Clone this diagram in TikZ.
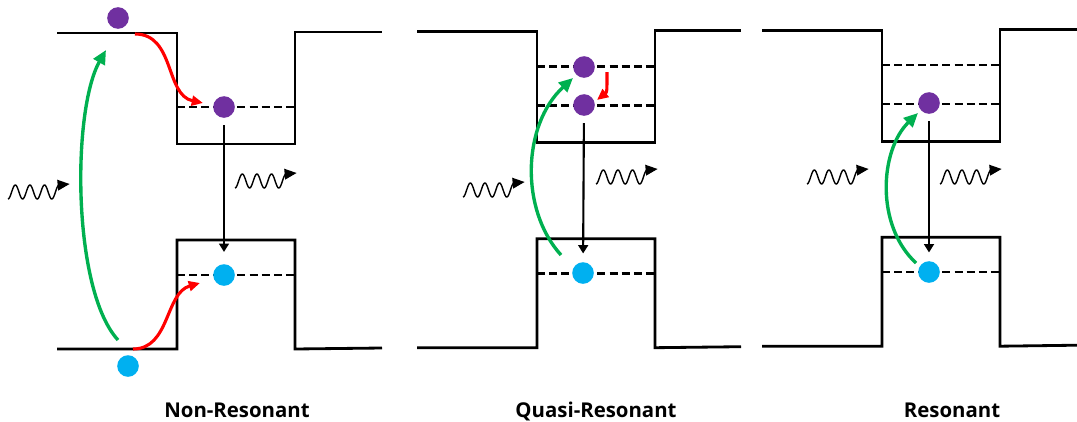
\documentclass[tikz,border=0pt]{standalone}
\usepackage{fontspec}
\setsansfont{Open Sans}
\usetikzlibrary{arrows.meta,calc}
\definecolor{elec}{HTML}{7030A0}
\definecolor{hole}{HTML}{00B0F0}
\definecolor{pump}{HTML}{00B050}
\definecolor{relax}{HTML}{FF0000}
\begin{document}
\begin{tikzpicture}[x=0.025cm,y=-0.025cm,
  bandline/.style={line width=2pt},
  sublevel/.style={line width=1.8pt,dash pattern=on 5.7pt off 2.9pt},
  carrier/.style={circle,inner sep=0pt,minimum size=0.54cm},
  excite/.style={pump,line width=2.4pt,-{Triangle[length=10pt,width=9pt]}},
  cool/.style={relax,line width=2.2pt,-{Triangle[length=8pt,width=7pt]}},
  emit/.style={line width=1.5pt,-{Triangle[length=6pt,width=7pt]},shorten <=5pt,shorten >=6pt},
  photon/.style={line width=1pt,-{Triangle[length=8.5pt,width=7.5pt]}},
  caption/.style={font=\sffamily\bfseries\fontsize{14.5}{17}\selectfont,anchor=base}]
  \useasboundingbox (0,0) rectangle (1077,421);
  % band edges of the three structures
  \foreach \ox/\oy/\xr in {0/0/382, 360/-1.3/381, 705/-2.8/372}{
    \begin{scope}[shift={(\ox,\oy)}]
      \draw[bandline] (57,33) -- (177,33) -- (177,144) -- (295,144) -- (295,32) -- (\xr,32);
      \draw[bandline] (57,349) -- (177,349) -- (177,240) -- (295,240) -- (295,349) -- (\xr,348);
      \draw[sublevel] (177,107) -- (295,107);
      \draw[sublevel] (177,275) -- (295,275);
    \end{scope}}
  % second confined level
  \foreach \ox/\oy in {360/-1.3, 705/-2.8}
    \draw[sublevel] (177+\ox,68+\oy) -- (295+\ox,68+\oy);
  % incoming and emitted light (starts at a trough)
  \foreach \xa/\ya in {8/199, 235/188, 463/197, 596/184, 807/184, 940/184}
    \draw[photon] plot[domain=0:3.5,samples=80,smooth]
      ({\xa+14.6*\x},{\ya-7+7*cos(360*\x)}) -- ++(10.5,-1);
  % carriers
  \node[carrier,fill=elec] (e0) at (118,18) {};
  \node[carrier,fill=elec] (e1) at (224,107) {};
  \node[carrier,fill=hole] (h0) at (128,366) {};
  \node[carrier,fill=hole] (h1) at (224,275) {};
  \node[carrier,fill=elec] (qe2) at (584,67) {};
  \node[carrier,fill=elec] (qe1) at (584,105) {};
  \node[carrier,fill=hole] (qh1) at (583,273) {};
  \node[carrier,fill=elec] (re1) at (929,103) {};
  \node[carrier,fill=hole] (rh1) at (929,272) {};
  % excitation
  \draw[excite] ($(h0)+(-10,-26)$) .. controls (72,290) and (72,110) .. ($(e0)+(-12,32)$);
  \draw[excite] ($(qh1)+(-22,-18)$) .. controls (520,210) and (522,125) .. ($(qe2)+(-11,11)$);
  \draw[excite] ($(rh1)+(-13,-9)$) .. controls (875,225) and (880,150) .. ($(re1)+(-11,10)$);
  % relaxation into the wells
  \draw[cool] ($(e0)+(17,16)$) .. controls (175,34) and (165,95) .. ($(e1)+(-21,-4)$);
  \draw[cool] ($(h0)+(5,-17)$) .. controls (170,349) and (165,293) .. ($(h1)+(-24,8)$);
  \draw[cool] ($(qe2)+(23,5)$) .. controls (607,92) .. ($(qe1)+(13,-5)$);
  % recombination
  \draw[emit,shorten >=8.5pt] (e1) -- (h1);
  \draw[emit] (qe1) -- (qh1);
  \draw[emit] (re1) -- (rh1);
  % captions
  \node[caption] (capnon) at (237,417) {Non-Resonant};
  \node[caption] (capquasi) at (596,417) {Quasi-Resonant};
  \node[caption] (capres) at (952,417) {Resonant};
\end{tikzpicture}
\end{document}
